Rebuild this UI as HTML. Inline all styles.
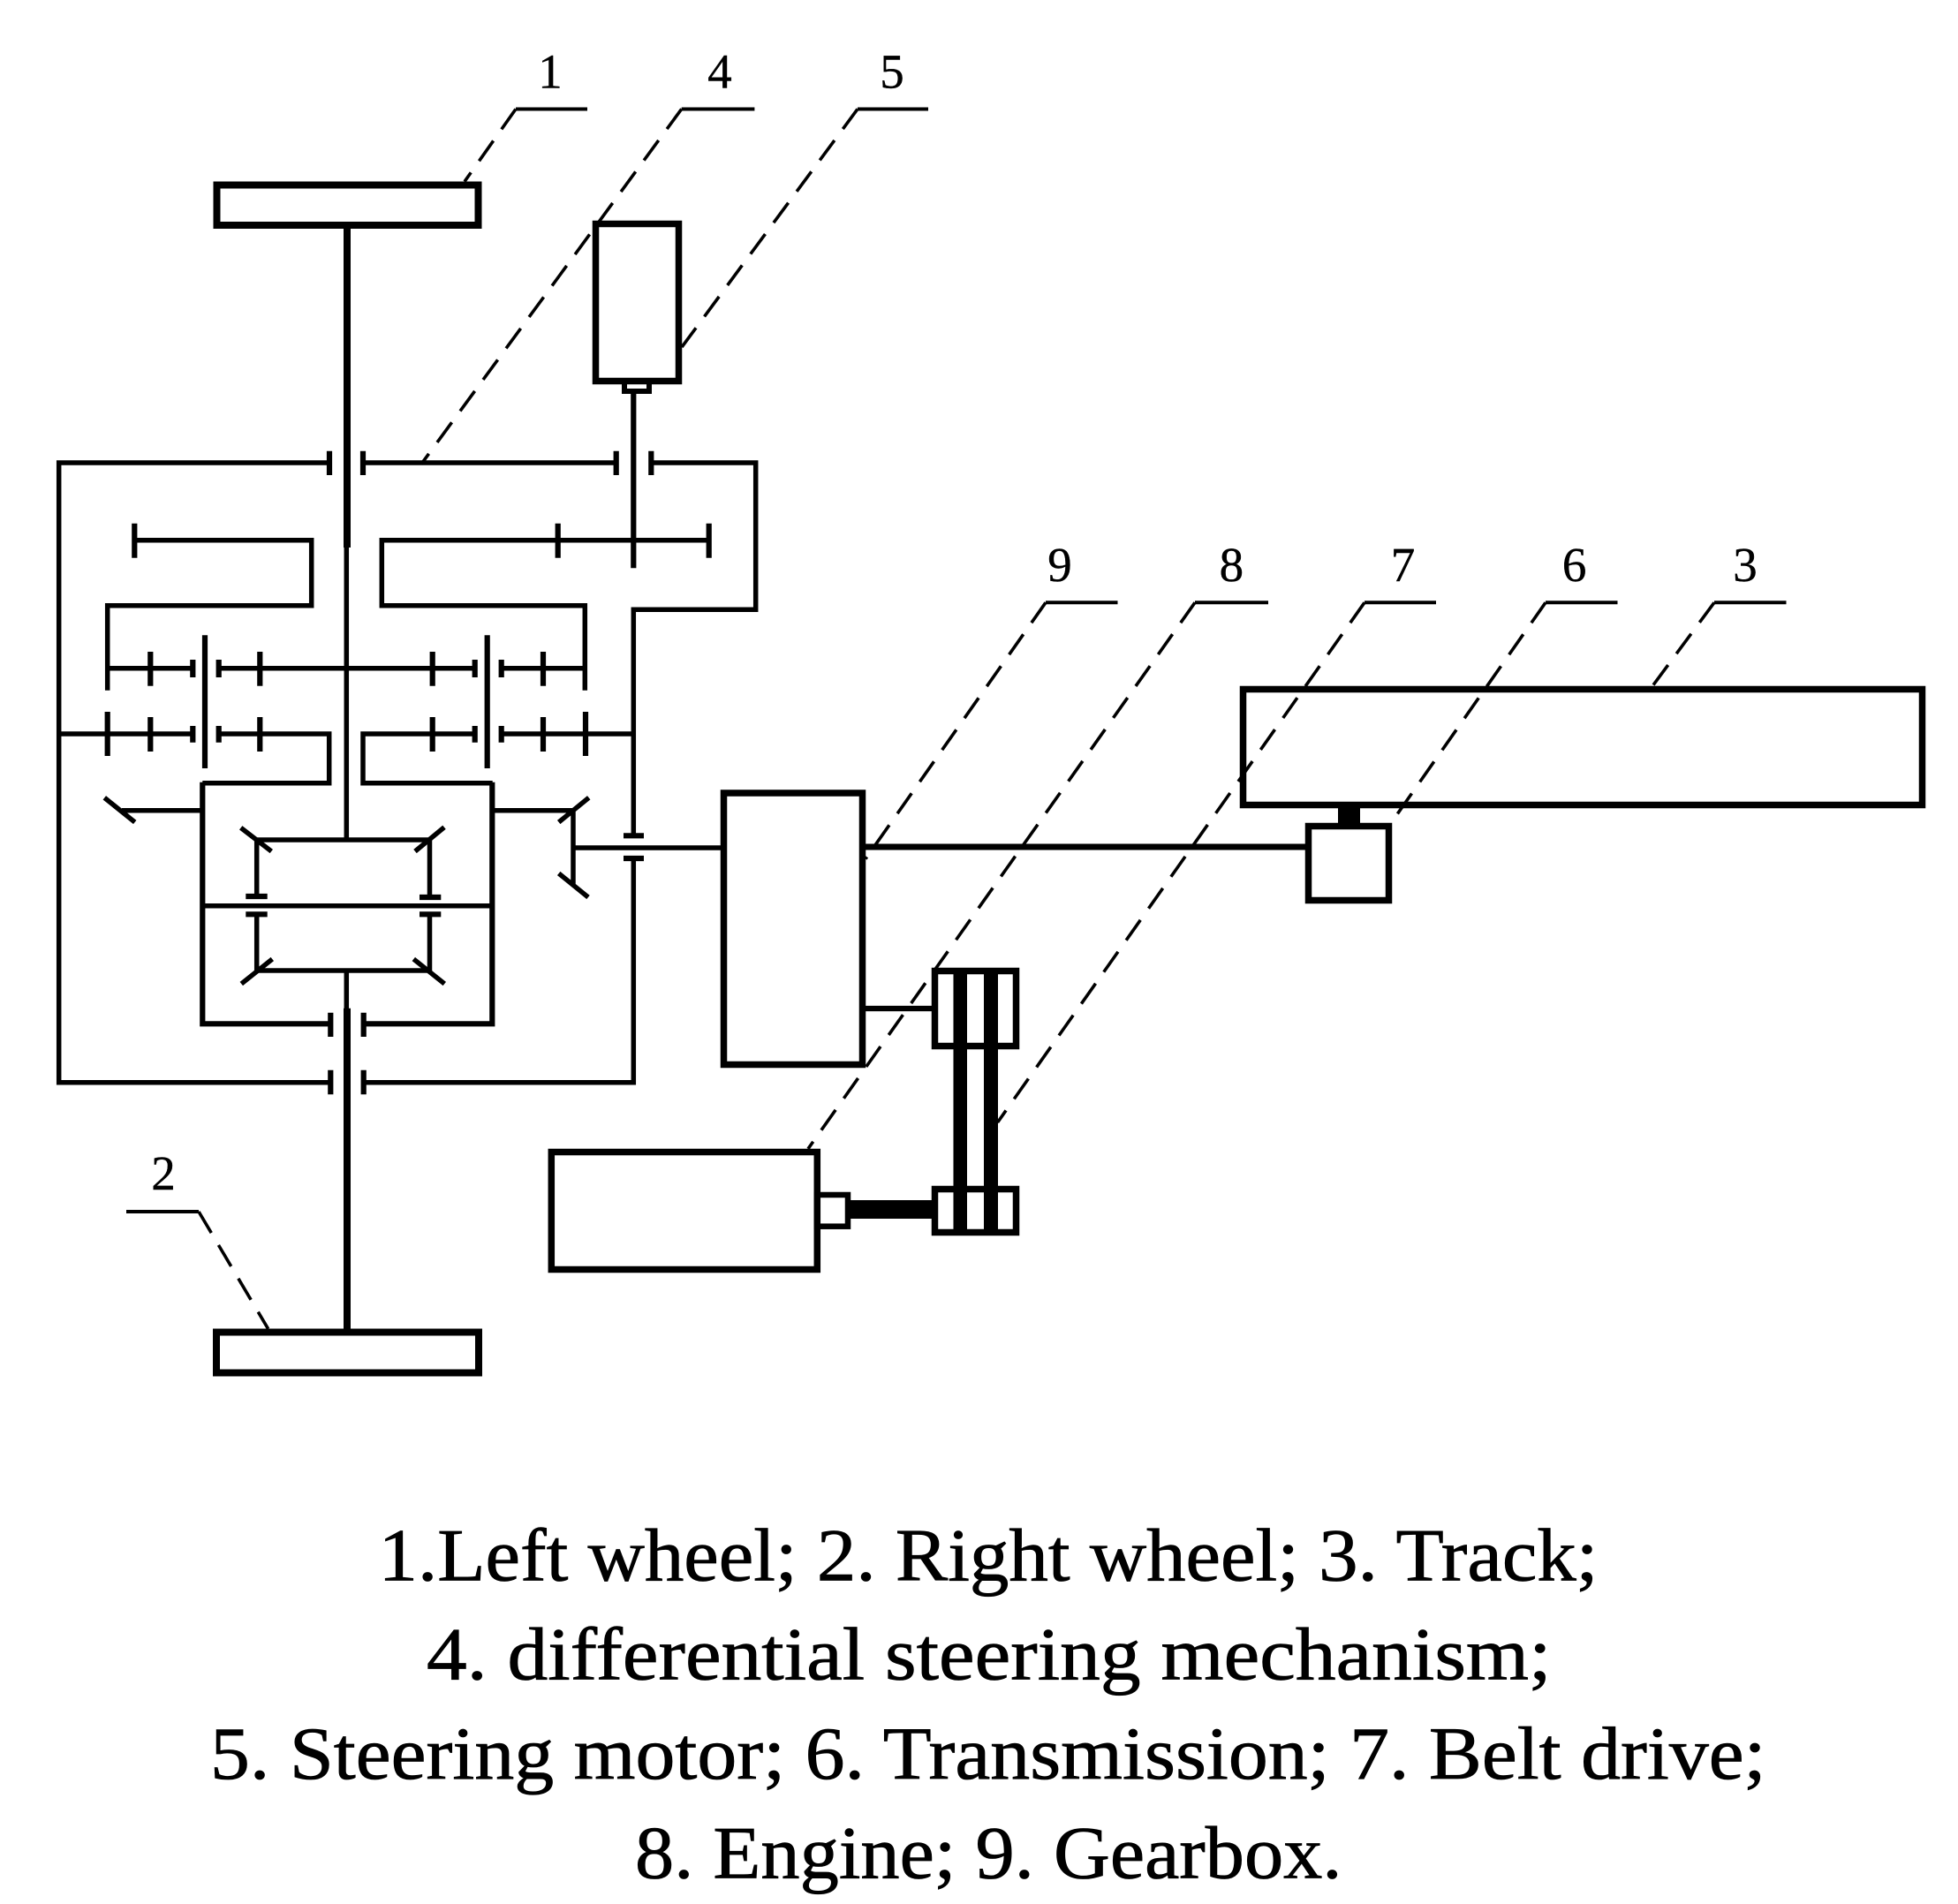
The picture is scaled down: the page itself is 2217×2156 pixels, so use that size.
<!DOCTYPE html>
<html><head><meta charset="utf-8"><style>
html,body{margin:0;padding:0;background:#fff}
svg{display:block}
.s{fill:none;stroke:#000;stroke-width:5.500;stroke-linejoin:miter;stroke-linecap:butt}
.k{fill:none;stroke:#000;stroke-width:6.200}
.t{fill:none;stroke:#000;stroke-width:7.500}
.d{fill:none;stroke:#000;stroke-width:3.600;stroke-dasharray:28 16}
.h{fill:none;stroke:#000;stroke-width:4}
.n{font-family:"Liberation Serif",serif;font-size:55px;text-anchor:middle;fill:#000;stroke:#000;stroke-width:.4}
.c{font-family:"Liberation Serif",serif;font-size:85px;fill:#000;stroke:#000;stroke-width:.8}
</style></head><body>
<svg xmlns="http://www.w3.org/2000/svg" width="2217" height="2156" viewBox="0 0 2217 2156">
<rect width="2217" height="2156" fill="#fff"/>
<!-- wheels and boxes -->
<rect class="t" x="245.500" y="209.500" width="296" height="45.500" style="stroke-width:8"/>
<rect class="t" x="245" y="1508.500" width="297" height="46" style="stroke-width:8"/>
<rect class="t" x="674.500" y="253.500" width="94" height="178"/>
<rect class="s" x="707" y="432" width="28" height="11" style="stroke-width:6"/>
<rect class="t" x="819.500" y="898" width="157" height="307.500"/>
<rect class="t" x="624.300" y="1304.500" width="301" height="133"/>
<rect class="s" x="925" y="1353" width="35" height="35.700" style="stroke-width:6.500"/>
<rect class="t" x="1407.500" y="780.500" width="769" height="131"/>
<rect class="t" x="1481.500" y="935.500" width="91" height="84"/>
<rect x="1515" y="915" width="25" height="17"/>
<!-- main shaft -->
<path class="t" d="M393 258V620" style="stroke-width:8"/>
<path class="s" d="M392.300 620V951"/>
<path class="s" d="M392.300 1099V1142"/>
<path class="t" d="M393 1141.700V1505" style="stroke-width:8"/>
<!-- motor shaft -->
<path class="k" d="M717.300 446V643.300"/>
<!-- outer housing -->
<path class="s" d="M373 524H66.700V1225.700H374.300"/>
<path class="s" d="M411 524H697.700M737.300 524H855.700V690.300H717.300V946.300"/>
<path class="s" d="M717.300 972V1225.700H411.700"/>
<path class="k" d="M373 510.700V538M411 510.700V538M697.700 510.700V538M737.300 510.700V538"/>
<path class="k" d="M374.300 1211.700V1239.300M411.700 1211.700V1239.300"/>
<path class="k" d="M706 946.300H729M706 972H729"/>
<!-- ring gears -->
<path class="k" d="M152.300 592.700V631.700M802.700 592.700V631.700M631.700 592.700V631.700"/>
<path class="s" d="M152.300 611.700H352.700V685.700H121.700V781.700"/>
<path class="s" d="M802.700 611.700H432.300V685.700H662.300V781.700"/>
<!-- planetary rows -->
<path class="s" d="M121.700 756.700H218.300M247.700 756.700H537.700M567.700 756.700H662.300"/>
<path class="k" d="M170.300 738V776.700M294.300 738V776.700M489.700 738V776.700M615 738V776.700"/>
<path class="k" d="M218.300 747V767M247.700 747V767M537.700 747V767M567.700 747V767"/>
<path class="k" d="M232 719.300V870M551.700 719.300V870"/>
<path class="s" d="M66.700 831H218.300M247.700 831H372.700V886.700H229.300"/>
<path class="s" d="M537.700 831H411V886.700H557.700"/>
<path class="s" d="M567.700 831H717.300"/>
<path class="k" d="M121.700 806V856M663 806V856"/>
<path class="k" d="M170.300 812V851M294.300 812V851M489.700 812V851M615 812V851"/>
<path class="k" d="M218.300 822V840.700M247.700 822V840.700M537.700 822V840.700M567.700 822V840.700"/>
<!-- differential box -->
<path class="k" d="M229.300 885.700V1159.300H374.300"/>
<path class="k" d="M557.300 885.700V1159.300H411.700"/>
<path class="k" d="M374.300 1146.700V1174M411.700 1146.700V1174"/>
<path class="s" d="M229.300 1025.700H557.300"/>
<path class="s" d="M290.700 1015V951H486.500V1016M290.700 1035.300V1099H486.500V1035.300"/>
<path class="k" d="M278.300 1015H302.700M475 1016H499.300M278.300 1035.300H302.700M475 1035.300H499.300"/>
<path class="s" d="M272.700 937.300L307.300 964M470 964L503 936.700M273.300 1114L308.300 1086M468.300 1086L503.300 1114"/>
<!-- bevels -->
<path class="s" d="M229 917.700H138M118.300 903.300L152.700 931"/>
<path class="s" d="M557.700 917.700H649M632.700 931L666.700 903.300M649 917.700V1002M632.700 989L666 1016"/>
<path class="s" d="M649 960H816"/>
<!-- right side -->
<path class="t" d="M980 959H1478" style="stroke-width:7"/>
<path class="k" d="M980 1142H1056"/>
<rect x="963" y="1359" width="93" height="21"/>
<rect class="t" x="1058.500" y="1099.500" width="92" height="85"/>
<rect class="t" x="1058.500" y="1346.500" width="92" height="49"/>
<rect x="1079.500" y="1096" width="15.500" height="303"/>
<rect x="1114" y="1096" width="16" height="303"/>
<!-- leaders -->
<path class="h" d="M665 123.500H584"/><path class="d" d="M584 123.500L526 205.600"/>
<path class="h" d="M854.400 123.500H771.700"/><path class="d" d="M771.700 123.500L477 525.500"/>
<path class="h" d="M1051 123.500H971"/><path class="d" d="M971 123.500L772 393"/>
<path class="h" d="M143 1372H225"/><path class="d" d="M225 1372L303.600 1504.700"/>
<path class="h" d="M1265.500 682.300H1184"/><path class="d" d="M1184 682.300L980 972.600"/>
<path class="h" d="M1436 682.300H1353"/><path class="d" d="M1353 682.300L915 1300.800"/>
<path class="h" d="M1626 682.300H1545"/><path class="d" d="M1545 682.300L1129.500 1271"/>
<path class="h" d="M1831.500 682.300H1750"/><path class="d" d="M1750 682.300L1574.500 932.700"/>
<path class="h" d="M2022.500 682.300H1941"/><path class="d" d="M1941 682.300L1871 777"/>
<!-- number labels -->
<text class="n" x="623" y="99.500">1</text>
<text class="n" x="815" y="99.500">4</text>
<text class="n" x="1010" y="99.500">5</text>
<text class="n" x="185" y="1347">2</text>
<text class="n" x="1200" y="658">9</text>
<text class="n" x="1394.400" y="658">8</text>
<text class="n" x="1588.500" y="658">7</text>
<text class="n" x="1782.600" y="658">6</text>
<text class="n" x="1976" y="658">3</text>
<!-- caption -->
<text class="c" x="428.500" y="1789.300" textLength="1381" lengthAdjust="spacingAndGlyphs">1.Left wheel; 2. Right wheel; 3. Track;</text>
<text class="c" x="483" y="1901.700" textLength="1273.500" lengthAdjust="spacingAndGlyphs">4. differential steering mechanism;</text>
<text class="c" x="238" y="2014" textLength="1761.600" lengthAdjust="spacingAndGlyphs">5. Steering motor; 6. Transmission; 7. Belt drive;</text>
<text class="c" x="719" y="2126.700" textLength="800.500" lengthAdjust="spacingAndGlyphs">8. Engine; 9. Gearbox.</text>
</svg>
</body></html>
